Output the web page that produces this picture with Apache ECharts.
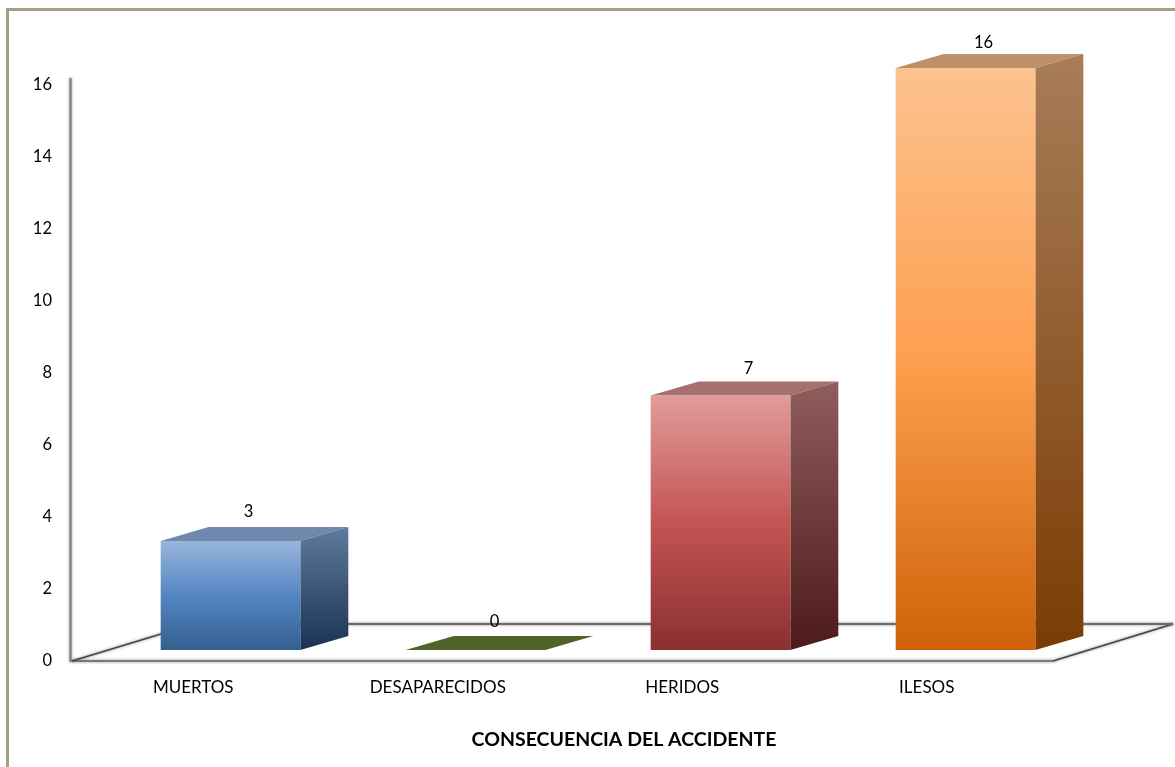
<!DOCTYPE html>
<html>
<head>
<meta charset="utf-8">
<style>html,body{margin:0;padding:0;background:#fff}#c{width:1175px;height:767px}</style>
<script src="https://cdn.jsdelivr.net/npm/echarts@6/dist/echarts.min.js"></script>
</head>
<body>
<div id="c"></div>
<script>
var categories = ['MUERTOS', 'DESAPARECIDOS', 'HERIDOS', 'ILESOS'];
var values = [3, 0, 7, 16];
var axisTitle = 'CONSECUENCIA DEL ACCIDENTE';

var frontStops = [
  ['#98b5da', '#5586c3', '#33608f'],
  ['#4f6228', '#4f6228', '#4f6228'],
  ['#e09c9b', '#c35553', '#8b2f2f'],
  ['#fcc28f', '#fd9f4f', '#cf6208']
];
var sideStops = [
  ['#5f7a9e', '#1b3252'],
  ['#4f6228', '#4f6228'],
  ['#8f5d5c', '#4c1a1a'],
  ['#a87d58', '#7a3c04']
];
var topColors = ['#6f89ad', '#4f6228', '#a4716f', '#bd9069'];
var labelShift = [[18, -29], [19, -28], [28, -27], [18, -25]];

var DEPTH_X = 48, DEPTH_Y = 14;

function vgrad(stops) {
  return new echarts.graphic.LinearGradient(0, 0, 0, 1, stops.map(function (c, i) {
    return { offset: i / (stops.length - 1), color: c };
  }));
}

function renderBar(params, api) {
  var i = api.value(0), v = api.value(1);
  var base = api.coord([i, 0]), tip = api.coord([i, v]);
  var w = api.size([1, 0])[0] * 0.57;
  var l = base[0] - w / 2, r = base[0] + w / 2, b = base[1], t = tip[1];
  var children = [];
  children.push({
    type: 'polygon',
    shape: { points: [[l, t], [r, t], [r + DEPTH_X, t - DEPTH_Y], [l + DEPTH_X, t - DEPTH_Y]] },
    style: { fill: topColors[i] }
  });
  if (v > 0) {
    children.push({
      type: 'polygon',
      shape: { points: [[r, t], [r + DEPTH_X, t - DEPTH_Y], [r + DEPTH_X, b - DEPTH_Y], [r, b]] },
      style: { fill: vgrad(sideStops[i]) }
    });
    children.push({
      type: 'rect',
      shape: { x: l, y: t, width: w, height: b - t },
      style: { fill: vgrad(frontStops[i]) }
    });
  }
  children.push({
    type: 'text',
    style: {
      x: base[0] + labelShift[i][0], y: t + labelShift[i][1], text: String(v),
      fill: '#000', font: '16.5px Lato', align: 'center', verticalAlign: 'middle'
    },
    z2: 10
  });
  return { type: 'group', children: children };
}

function floorLine(points, stroke, width) {
  return {
    type: 'polyline', silent: true, z: -1,
    shape: { points: points },
    style: { stroke: stroke, lineWidth: width, fill: null, shadowBlur: 3, shadowColor: 'rgba(110,110,110,0.85)' }
  };
}

var chart = echarts.init(document.getElementById('c'), null, { renderer: 'canvas' });
chart.setOption({
  animation: false,
  backgroundColor: '#fff',
  title: {
    text: axisTitle, left: 619, top: 725, textAlign: 'center',
    textStyle: { fontFamily: 'Lato', fontWeight: 'bold', fontSize: 19.5, color: '#000' }
  },
  grid: [
    { left: 71, top: 85, width: 978, height: 576, containLabel: false },
    { left: 108, top: 68, width: 980, height: 582, containLabel: false }
  ],
  xAxis: [
    {
      type: 'category', gridIndex: 0, data: categories,
      axisLine: { show: false }, axisTick: { show: false },
      axisLabel: { margin: 18, fontFamily: 'Lato', fontSize: 17, color: '#000', interval: 0 }
    },
    {
      type: 'category', gridIndex: 1, data: categories,
      axisLine: { show: false }, axisTick: { show: false }, axisLabel: { show: false }
    }
  ],
  yAxis: [
    {
      type: 'value', gridIndex: 0, min: 0, max: 16, interval: 2,
      axisLine: { show: false }, axisTick: { show: false }, splitLine: { show: false },
      axisLabel: { margin: 19, fontFamily: 'Lato', fontSize: 16.5, color: '#000' }
    },
    {
      type: 'value', gridIndex: 1, min: 0, max: 16, interval: 2, show: false,
      splitLine: { show: false }
    }
  ],
  graphic: {
    elements: [
      { type: 'polyline', silent: true, z: -1,
        shape: { points: [[7.5, 767], [7.5, 9.5], [1175, 9.5]] },
        style: { stroke: '#a89f86', lineWidth: 3, fill: null } },
      floorLine([[70.5, 78], [70.5, 661], [1053, 661]], '#7a7a7a', 2),
      floorLine([[72, 661], [194, 624]], '#444444', 1.5),
      floorLine([[1053, 661], [1173, 624]], '#444444', 1.5),
      floorLine([[194, 624], [1173, 624]], '#6a6a6a', 2)
    ]
  },
  series: [{
    type: 'custom', xAxisIndex: 1, yAxisIndex: 1, z: 5, clip: false,
    renderItem: renderBar,
    encode: { x: 0, y: 1 },
    data: values.map(function (v, i) { return [i, v]; })
  }]
});
</script>
</body>
</html>
